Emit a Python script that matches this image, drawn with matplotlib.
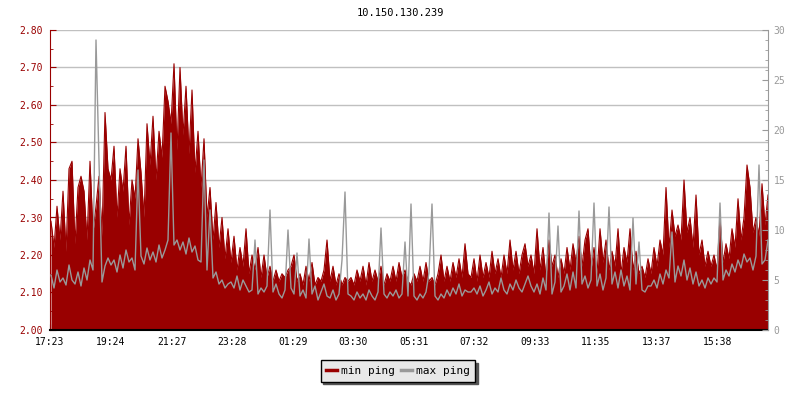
import matplotlib
matplotlib.use("Agg")
import matplotlib.pyplot as plt
from matplotlib.lines import Line2D

plt.rcParams['font.family'] = ['DejaVu Sans Mono']
plt.rcParams['font.size'] = 7

title = "10.150.130.239"

# one sample every 6 minutes, starting 17:23
step_min = 6

# min ping (ms), left axis
min_ping = [
    2.29, 2.22, 2.33, 2.24, 2.37, 2.21, 2.43, 2.45, 2.23, 2.38, 2.41, 2.37, 2.24, 2.45, 2.26, 2.33, 2.41, 2.25, 2.58, 2.43,
    2.40, 2.49, 2.30, 2.43, 2.37, 2.49, 2.28, 2.40, 2.35, 2.51, 2.42, 2.30, 2.55, 2.44, 2.57, 2.40, 2.53, 2.46, 2.65, 2.61,
    2.55, 2.71, 2.48, 2.70, 2.52, 2.65, 2.47, 2.64, 2.42, 2.53, 2.38, 2.51, 2.30, 2.38, 2.24, 2.34, 2.22, 2.30, 2.19, 2.27,
    2.18, 2.25, 2.16, 2.22, 2.17, 2.27, 2.15, 2.20, 2.16, 2.22, 2.14, 2.20, 2.14, 2.17, 2.13, 2.16, 2.13, 2.15, 2.14, 2.16,
    2.17, 2.20, 2.13, 2.15, 2.12, 2.17, 2.13, 2.18, 2.12, 2.14, 2.13, 2.16, 2.24, 2.13, 2.17, 2.12, 2.15, 2.12, 2.14, 2.13,
    2.14, 2.12, 2.16, 2.13, 2.17, 2.12, 2.18, 2.13, 2.16, 2.13, 2.17, 2.12, 2.15, 2.13, 2.17, 2.13, 2.18, 2.14, 2.16, 2.13,
    2.12, 2.15, 2.13, 2.17, 2.13, 2.18, 2.13, 2.14, 2.12, 2.15, 2.20, 2.13, 2.17, 2.13, 2.18, 2.14, 2.19, 2.14, 2.23, 2.15,
    2.14, 2.19, 2.13, 2.20, 2.14, 2.18, 2.14, 2.21, 2.15, 2.19, 2.14, 2.20, 2.15, 2.24, 2.16, 2.21, 2.15, 2.20, 2.23, 2.17,
    2.20, 2.15, 2.27, 2.16, 2.22, 2.14, 2.24, 2.17, 2.20, 2.14, 2.19, 2.15, 2.22, 2.16, 2.23, 2.18, 2.25, 2.17, 2.24, 2.27,
    2.16, 2.22, 2.15, 2.27, 2.18, 2.24, 2.16, 2.21, 2.17, 2.27, 2.15, 2.22, 2.18, 2.27, 2.16, 2.21, 2.15, 2.17, 2.14, 2.19,
    2.15, 2.22, 2.17, 2.24, 2.20, 2.38, 2.22, 2.32, 2.25, 2.28, 2.24, 2.40, 2.26, 2.30, 2.22, 2.36, 2.20, 2.24, 2.17, 2.21,
    2.17, 2.20, 2.16, 2.30, 2.18, 2.23, 2.19, 2.27, 2.22, 2.35, 2.24, 2.30, 2.44, 2.38, 2.26, 2.30, 2.25, 2.39, 2.28, 2.36,
]

# max ping (ms), right axis
max_ping = [
    5.5, 4.2, 6.0, 4.8, 5.2, 4.5, 6.5, 5.0, 4.6, 5.8, 4.4, 6.2, 5.0, 7.0, 6.0, 29.0, 17.0, 4.8, 6.4, 7.2,
    6.5, 7.0, 5.8, 7.5, 6.2, 8.0, 6.8, 7.2, 6.0, 16.0, 7.4, 6.6, 8.2, 7.0, 7.8, 6.8, 8.5, 7.2, 8.0, 9.0,
    19.7, 8.5, 9.0, 8.0, 8.8, 7.6, 9.2, 7.8, 8.4, 7.0, 6.8, 17.0, 6.0, 12.0, 5.2, 5.8, 4.6, 5.0, 4.2, 4.6,
    4.8, 4.2, 5.4, 4.0, 5.0, 4.4, 3.8, 4.0, 9.0, 3.6, 4.2, 3.8, 4.4, 12.0, 3.8, 4.6, 3.6, 3.2, 4.0, 10.0,
    4.2, 3.6, 7.7, 3.4, 4.0, 3.2, 9.1, 3.6, 4.4, 3.0, 3.8, 4.6, 3.4, 3.2, 4.0, 3.0, 3.6, 7.0, 13.8, 3.6,
    3.4, 3.0, 3.8, 3.2, 3.6, 3.0, 4.0, 3.4, 3.0, 3.8, 10.2, 3.6, 3.2, 3.8, 3.4, 4.0, 3.2, 3.6, 8.8, 3.4,
    12.6, 3.4, 3.0, 3.6, 3.2, 3.8, 5.7, 12.6, 3.4, 3.0, 3.6, 3.2, 4.0, 3.4, 4.2, 3.6, 4.6, 3.4, 4.0, 3.8,
    3.8, 4.2, 3.6, 4.4, 3.4, 4.0, 4.8, 3.6, 4.2, 3.8, 5.2, 4.0, 3.6, 4.6, 4.0, 5.0, 4.2, 3.8, 4.6, 5.4,
    4.4, 3.8, 4.6, 3.6, 5.2, 4.0, 11.7, 3.6, 4.8, 10.4, 3.8, 4.4, 5.6, 4.0, 5.8, 4.2, 11.9, 4.6, 5.4, 4.2,
    5.0, 12.7, 4.4, 5.6, 4.0, 5.2, 12.3, 4.6, 5.8, 4.2, 6.0, 4.4, 5.4, 4.0, 11.2, 4.6, 8.8, 4.0, 3.8, 4.4,
    4.4, 5.0, 4.2, 5.6, 4.6, 6.0, 5.2, 9.8, 4.8, 6.4, 5.4, 7.0, 5.0, 6.2, 4.6, 5.8, 4.4, 5.0, 4.2, 5.2,
    4.6, 5.2, 4.8, 12.7, 5.0, 6.0, 5.4, 6.6, 5.8, 7.0, 6.2, 7.6, 6.8, 7.2, 6.0, 7.4, 16.5, 6.6, 7.0, 9.0,
]

tick_minutes = [0, 121, 244, 365, 486, 607, 728, 849, 970, 1092, 1214, 1335]
tick_labels = ["17:23", "19:24", "21:27", "23:28", "01:29", "03:30",
               "05:31", "07:32", "09:33", "11:35", "13:37", "15:38"]

left_ticks = [2.00, 2.10, 2.20, 2.30, 2.40, 2.50, 2.60, 2.70, 2.80]
right_ticks = [0, 5, 10, 15, 20, 25, 30]

red = "#990000"
grey = "#999999"

t = [i * step_min + 2 for i in range(len(min_ping))]

fig = plt.figure(figsize=(8, 4), dpi=100)
ax = fig.add_axes([50 / 800, 70 / 400, 718 / 800, 300 / 400])
ax2 = ax.twinx()

ax.fill_between(t, 2.0, min_ping, color=red, lw=0, zorder=2)
ax.plot(t, min_ping, color=red, lw=0.8, zorder=2)
ax2.plot(t, max_ping, color=grey, lw=1)

ax.set_xlim(0, 1436)
ax.set_ylim(2.0, 2.8)
ax2.set_ylim(0, 30)

ax.set_yticks(left_ticks)
ax.set_yticklabels(["%.2f" % v for v in left_ticks])
ax.set_yticks([2.05 + 0.1 * k for k in range(8)], minor=True)
ax2.set_yticks(right_ticks)
ax2.set_yticks([k for k in range(31) if k % 5], minor=True)
ax.set_xticks(tick_minutes)
ax.set_xticklabels(tick_labels)

ax.set_axisbelow(True)
ax.yaxis.grid(True, color="#c0c0c0", lw=1)

ax.tick_params(axis='y', which='major', direction='in', length=4, color=red,
               labelcolor=red, pad=5)
ax.tick_params(axis='y', which='minor', direction='in', length=2.5, color=red)
ax.tick_params(axis='x', direction='in', length=4, color='black', pad=5)
ax2.tick_params(axis='y', which='major', direction='in', length=4, color=grey,
                labelcolor=grey, pad=4)
ax2.tick_params(axis='y', which='minor', direction='in', length=2.5, color=grey)

for a in (ax, ax2):
    a.spines['top'].set_visible(False)
ax.spines['right'].set_visible(False)
ax2.spines['left'].set_visible(False)
ax2.spines['bottom'].set_visible(False)
ax.spines['left'].set_color(red)
ax2.spines['right'].set_color(grey)
ax.spines['bottom'].set_color('black')
ax.spines['bottom'].set_linewidth(1.5)

fig.text(0.5, 1 - 13 / 400, title, ha='center', va='center', fontsize=7.5, color='black')

handles = [Line2D([], [], color=red, lw=2.5), Line2D([], [], color=grey, lw=2.5)]
leg = fig.legend(handles, ["min ping", "max ping"], loc='center',
                 bbox_to_anchor=(398 / 800, 1 - 371 / 400), ncol=2,
                 fancybox=False, shadow={'color': '#555555', 'alpha': 1},
                 facecolor='#e8e8e8', edgecolor='black', framealpha=1,
                 handlelength=1.0, handletextpad=0.3, columnspacing=0.6,
                 borderpad=0.5, fontsize=8)
leg.get_frame().set_linewidth(1)

fig.savefig("out.png", dpi=100)
